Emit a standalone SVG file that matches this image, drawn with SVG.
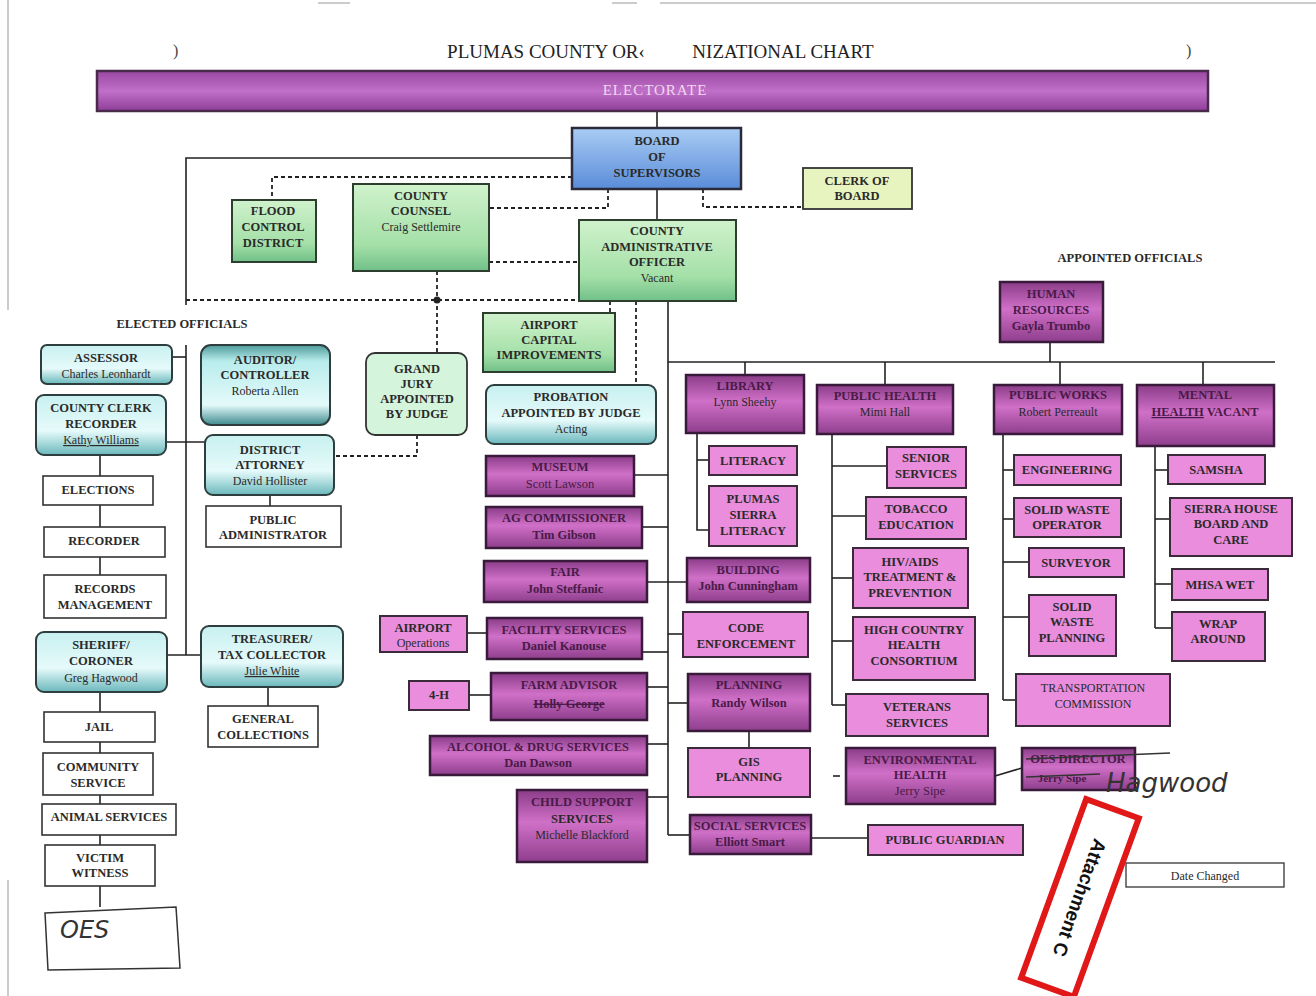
<svg xmlns="http://www.w3.org/2000/svg" width="1316" height="996" viewBox="0 0 1316 996">
<defs>
<linearGradient id="gel" x1="0" y1="0" x2="0" y2="1"><stop offset="0" stop-color="#9a48a2"/><stop offset="0.5" stop-color="#c070c8"/><stop offset="1" stop-color="#8e3e98"/></linearGradient>
<linearGradient id="gbl" x1="0" y1="0" x2="0" y2="1"><stop offset="0" stop-color="#a8ccf4"/><stop offset="1" stop-color="#5a8cd8"/></linearGradient>
<linearGradient id="ggr" x1="0" y1="0" x2="0" y2="1"><stop offset="0" stop-color="#d0f2cc"/><stop offset="0.7" stop-color="#a4e0a8"/><stop offset="1" stop-color="#70c088"/></linearGradient>
<linearGradient id="gcy" x1="0" y1="0" x2="0" y2="1"><stop offset="0" stop-color="#c8f0f0"/><stop offset="0.6" stop-color="#e6fafa"/><stop offset="1" stop-color="#6ab8bc"/></linearGradient>
<linearGradient id="gcy2" x1="0" y1="0" x2="0" y2="1"><stop offset="0" stop-color="#4e9a9a"/><stop offset="0.2" stop-color="#b8ecec"/><stop offset="0.75" stop-color="#e4fafa"/><stop offset="1" stop-color="#3e8a8e"/></linearGradient>
<linearGradient id="gdp" x1="0" y1="0" x2="0" y2="1"><stop offset="0" stop-color="#8a3c88"/><stop offset="0.45" stop-color="#d070c8"/><stop offset="1" stop-color="#8e3e8c"/></linearGradient>
<style>
.t{font-family:"Liberation Serif",serif;font-weight:bold;font-size:12.5px;fill:#2a2a2a;text-anchor:middle}
.n{font-family:"Liberation Serif",serif;font-size:12px;fill:#2a2a2a;text-anchor:middle}
.d{font-family:"Liberation Serif",serif;font-weight:bold;font-size:12.5px;fill:#4a1a48;text-anchor:middle}
.h{font-family:"DejaVu Sans",sans-serif;font-style:italic;font-size:20px;fill:#333}
.pk{fill:#e98ddc;stroke:#3a2a3a;stroke-width:2}
.dp{fill:url(#gdp);stroke:#3a1a3a;stroke-width:2.5}
.gr{fill:url(#ggr);stroke:#2e3e2e;stroke-width:2}
.cy{fill:url(#gcy);stroke:#2e3e3e;stroke-width:2}
.cy2{fill:url(#gcy2);stroke:#2e3e3e;stroke-width:2}
.wh{fill:#fff;stroke:#333;stroke-width:1.6}
.ln{stroke:#222;stroke-width:1.6;fill:none}
.dl{stroke:#222;stroke-width:1.8;fill:none;stroke-dasharray:4 3}
</style>
</defs>
<rect width="1316" height="996" fill="#fff"/>
<g id="page-marks" stroke="#999" stroke-width="1">
<line x1="8" y1="0" x2="8" y2="310"/><line x1="8" y1="880" x2="8" y2="996"/>
<line x1="318" y1="3" x2="350" y2="3"/><line x1="612" y1="3" x2="637" y2="3"/><line x1="660" y1="3" x2="1316" y2="3"/>
</g>
<g id="title">
<text x="546" y="58" style="font-family:'Liberation Serif',serif;font-size:19px;fill:#222;text-anchor:middle">PLUMAS COUNTY OR‹</text>
<text x="783" y="58" style="font-family:'Liberation Serif',serif;font-size:19px;fill:#222;text-anchor:middle">NIZATIONAL CHART</text>
<text x="173" y="56" style="font-family:'Liberation Serif',serif;font-size:16px;fill:#444">)</text>
<text x="1186" y="56" style="font-family:'Liberation Serif',serif;font-size:16px;fill:#444">)</text>
</g>

<g id="connectors">
<line class="ln" x1="657" y1="111" x2="657" y2="128"/>
<polyline class="ln" points="572,158 186,158 186,305"/>
<line class="dl" x1="186" y1="300" x2="579" y2="300"/>
<polyline class="dl" points="572,177 272,177 272,200"/>
<polyline class="dl" points="608,189 608,208 489,208"/>
<polyline class="dl" points="703,189 703,207 803,207"/>
<line class="ln" x1="657" y1="189" x2="657" y2="220"/>
<line class="dl" x1="489" y1="262" x2="579" y2="262"/>
<line class="dl" x1="437" y1="271" x2="437" y2="353"/>
<circle cx="437" cy="300" r="3.5" fill="#222"/>
<polyline class="dl" points="417,435 417,456 334,456"/>
<line class="dl" x1="610" y1="301" x2="610" y2="313"/>
<line class="dl" x1="636" y1="301" x2="636" y2="385"/>
<line class="ln" x1="668" y1="301" x2="668" y2="835"/>
<line class="ln" x1="668" y1="835" x2="690" y2="835"/>
<line class="ln" x1="668" y1="362" x2="1275" y2="362"/>
<line class="ln" x1="745" y1="362" x2="745" y2="375"/>
<line class="ln" x1="885" y1="362" x2="885" y2="385"/>
<line class="ln" x1="1060" y1="362" x2="1060" y2="385"/>
<line class="ln" x1="1203" y1="362" x2="1203" y2="385"/>
<line class="ln" x1="1050" y1="342" x2="1050" y2="362"/>
<line class="ln" x1="634" y1="475" x2="668" y2="475"/>
<line class="ln" x1="642" y1="527" x2="668" y2="527"/>
<line class="ln" x1="647" y1="582" x2="687" y2="582"/>
<line class="ln" x1="642" y1="652" x2="668" y2="652"/>
<line class="ln" x1="467" y1="633" x2="487" y2="633"/>
<line class="ln" x1="647" y1="687" x2="668" y2="687"/>
<line class="ln" x1="469" y1="695" x2="491" y2="695"/>
<line class="ln" x1="647" y1="744" x2="668" y2="744"/>
<line class="ln" x1="647" y1="797" x2="668" y2="797"/>
<line class="ln" x1="668" y1="634" x2="683" y2="634"/>
<line class="ln" x1="668" y1="703" x2="688" y2="703"/>
<line class="ln" x1="749" y1="731" x2="749" y2="748"/>
<line class="ln" x1="811" y1="838" x2="868" y2="838"/>
<polyline class="ln" points="697,433 697,530 709,530"/>
<line class="ln" x1="697" y1="460" x2="709" y2="460"/>
<line class="ln" x1="832" y1="434" x2="832" y2="705"/>
<line class="ln" x1="832" y1="466" x2="887" y2="466"/>
<line class="ln" x1="832" y1="516" x2="866" y2="516"/>
<line class="ln" x1="832" y1="578" x2="853" y2="578"/>
<line class="ln" x1="832" y1="641" x2="853" y2="641"/>
<line class="ln" x1="832" y1="705" x2="846" y2="705"/>
<line class="ln" x1="833" y1="776" x2="840" y2="776"/>
<line class="ln" x1="995" y1="776" x2="1022" y2="768"/>
<line class="ln" x1="1003" y1="434" x2="1003" y2="700"/>
<line class="ln" x1="1003" y1="470" x2="1014" y2="470"/>
<line class="ln" x1="1003" y1="519" x2="1014" y2="519"/>
<line class="ln" x1="1003" y1="562" x2="1029" y2="562"/>
<line class="ln" x1="1003" y1="617" x2="1029" y2="617"/>
<line class="ln" x1="1003" y1="700" x2="1016" y2="700"/>
<line class="ln" x1="1155" y1="446" x2="1155" y2="628"/>
<line class="ln" x1="1155" y1="470" x2="1168" y2="470"/>
<line class="ln" x1="1155" y1="519" x2="1170" y2="519"/>
<line class="ln" x1="1155" y1="584" x2="1172" y2="584"/>
<line class="ln" x1="1155" y1="628" x2="1172" y2="628"/>
<line class="ln" x1="186" y1="345" x2="186" y2="655"/>
<line class="ln" x1="172" y1="357" x2="186" y2="357"/>
<line class="ln" x1="166" y1="442" x2="205" y2="442"/>
<line class="ln" x1="167" y1="655" x2="201" y2="655"/>
<line class="ln" x1="100" y1="455" x2="100" y2="575"/>
<line class="ln" x1="270" y1="495" x2="270" y2="506"/>
<line class="ln" x1="268" y1="687" x2="268" y2="706"/>
<line class="ln" x1="100" y1="692" x2="100" y2="907"/>
</g>

<g id="electorate"><rect x="97" y="71" width="1111" height="40" fill="url(#gel)" stroke="#4a2a4a" stroke-width="2.5"/><text x="655" y="95" style="font-family:'Liberation Serif',serif;font-size:15px;fill:#f0d8f0;text-anchor:middle;letter-spacing:1px">ELECTORATE</text></g>
<g id="board"><rect x="572" y="128" width="169" height="61" fill="url(#gbl)" stroke="#2a2a3a" stroke-width="2.5"/><text class="t" x="657" y="145">BOARD</text><text class="t" x="657" y="161">OF</text><text class="t" x="657" y="177">SUPERVISORS</text></g>
<g id="clerk-board"><rect x="803" y="168" width="109" height="41" fill="#e8f4c0" stroke="#333" stroke-width="1.8"/><text class="t" x="857" y="185">CLERK OF</text><text class="t" x="857" y="200">BOARD</text></g>
<g id="flood"><rect x="232" y="200" width="84" height="62" class="gr"/><text class="t" x="273" y="215">FLOOD</text><text class="t" x="273" y="231">CONTROL</text><text class="t" x="273" y="247">DISTRICT</text></g>
<g id="counsel"><rect x="353" y="184" width="136" height="87" class="gr"/><text class="t" x="421" y="200">COUNTY</text><text class="t" x="421" y="215">COUNSEL</text><text class="n" x="421" y="231">Craig Settlemire</text></g>
<g id="cao"><rect x="579" y="220" width="157" height="81" class="gr" stroke-width="2.5"/><text class="t" x="657" y="235">COUNTY</text><text class="t" x="657" y="251">ADMINISTRATIVE</text><text class="t" x="657" y="266">OFFICER</text><text class="n" x="657" y="282">Vacant</text></g>
<g id="airport-cap"><rect x="483" y="313" width="132" height="59" class="gr"/><text class="t" x="549" y="329">AIRPORT</text><text class="t" x="549" y="344">CAPITAL</text><text class="t" x="549" y="359">IMPROVEMENTS</text></g>
<g id="probation"><rect x="486" y="385" width="170" height="59" rx="8" class="cy"/><text class="t" x="571" y="401">PROBATION</text><text class="t" x="571" y="417">APPOINTED BY JUDGE</text><text class="n" x="571" y="433">Acting</text></g>
<g id="grand-jury"><rect x="366" y="353" width="101" height="82" rx="9" fill="#d4f4dc" stroke="#333" stroke-width="1.8"/><text class="t" x="417" y="373">GRAND</text><text class="t" x="417" y="388">JURY</text><text class="t" x="417" y="403">APPOINTED</text><text class="t" x="417" y="418">BY JUDGE</text></g>
<g id="labels"><text class="t" x="182" y="328">ELECTED OFFICIALS</text><text class="t" x="1130" y="262">APPOINTED OFFICIALS</text></g>

<g id="assessor"><rect x="41" y="345" width="131" height="39" rx="6" class="cy"/><text class="t" x="106" y="362">ASSESSOR</text><text class="n" x="106" y="378">Charles Leonhardt</text></g>
<g id="auditor"><rect x="201" y="345" width="129" height="80" rx="10" class="cy2"/><text class="t" x="265" y="364">AUDITOR/</text><text class="t" x="265" y="379">CONTROLLER</text><text class="n" x="265" y="395">Roberta Allen</text></g>
<g id="county-clerk"><rect x="36" y="395" width="130" height="60" rx="8" class="cy"/><text class="t" x="101" y="412">COUNTY CLERK</text><text class="t" x="101" y="428">RECORDER</text><text class="n" x="101" y="444" text-decoration="underline">Kathy Williams</text></g>
<g id="da"><rect x="205" y="435" width="129" height="60" rx="8" class="cy"/><text class="t" x="270" y="454">DISTRICT</text><text class="t" x="270" y="469">ATTORNEY</text><text class="n" x="270" y="485">David Hollister</text></g>
<g id="elections"><rect x="43" y="476" width="110" height="29" class="wh"/><text class="t" x="98" y="494">ELECTIONS</text></g>
<g id="recorder"><rect x="44" y="527" width="121" height="30" class="wh"/><text class="t" x="104" y="545">RECORDER</text></g>
<g id="records"><rect x="44" y="575" width="122" height="43" class="wh"/><text class="t" x="105" y="593">RECORDS</text><text class="t" x="105" y="609">MANAGEMENT</text></g>
<g id="public-admin"><rect x="206" y="506" width="135" height="41" class="wh"/><text class="t" x="273" y="524">PUBLIC</text><text class="t" x="273" y="539">ADMINISTRATOR</text></g>
<g id="sheriff"><rect x="36" y="632" width="131" height="60" rx="8" class="cy"/><text class="t" x="101" y="649">SHERIFF/</text><text class="t" x="101" y="665">CORONER</text><text class="n" x="101" y="682">Greg Hagwood</text></g>
<g id="treasurer"><rect x="201" y="626" width="142" height="61" rx="8" class="cy"/><text class="t" x="272" y="643">TREASURER/</text><text class="t" x="272" y="659">TAX COLLECTOR</text><text class="n" x="272" y="675" text-decoration="underline">Julie White</text></g>
<g id="gen-coll"><rect x="208" y="706" width="110" height="41" class="wh"/><text class="t" x="263" y="723">GENERAL</text><text class="t" x="263" y="739">COLLECTIONS</text></g>
<g id="jail"><rect x="44" y="712" width="111" height="30" class="wh"/><text class="t" x="99" y="731">JAIL</text></g>
<g id="community"><rect x="43" y="753" width="110" height="42" class="wh"/><text class="t" x="98" y="771">COMMUNITY</text><text class="t" x="98" y="787">SERVICE</text></g>
<g id="animal"><rect x="42" y="804" width="134" height="31" class="wh"/><text class="t" x="109" y="821">ANIMAL SERVICES</text></g>
<g id="victim"><rect x="45" y="845" width="110" height="41" class="wh"/><text class="t" x="100" y="862">VICTIM</text><text class="t" x="100" y="877">WITNESS</text></g>
<g id="oes"><path d="M45,913 L176,907 L180,968 L48,970 Z" fill="none" stroke="#333" stroke-width="1.5"/><text class="h" x="60" y="938" style="font-size:24px">OES</text></g>

<g id="museum"><rect x="486" y="456" width="148" height="40" class="dp"/><text class="d" x="560" y="471">MUSEUM</text><text class="d" x="560" y="488" style="font-weight:normal">Scott Lawson</text></g>
<g id="ag"><rect x="486" y="507" width="156" height="41" class="dp"/><text class="d" x="564" y="522">AG COMMISSIONER</text><text class="d" x="564" y="539">Tim Gibson</text></g>
<g id="fair"><rect x="484" y="561" width="163" height="41" class="dp"/><text class="d" x="565" y="576">FAIR</text><text class="d" x="565" y="593">John Steffanic</text></g>
<g id="facility"><rect x="487" y="618" width="155" height="41" class="dp"/><text class="d" x="564" y="634">FACILITY SERVICES</text><text class="d" x="564" y="650">Daniel Kanouse</text></g>
<g id="airport-ops"><rect x="380" y="616" width="87" height="36" class="pk"/><text class="t" x="423" y="632">AIRPORT</text><text class="n" x="423" y="647">Operations</text></g>
<g id="farm"><rect x="491" y="673" width="156" height="47" class="dp"/><text class="d" x="569" y="689">FARM ADVISOR</text><text class="d" x="569" y="708" text-decoration="line-through">Holly George</text></g>
<g id="four-h"><rect x="409" y="681" width="60" height="29" class="pk"/><text class="t" x="439" y="699">4-H</text></g>
<g id="alcohol"><rect x="430" y="736" width="217" height="39" class="dp"/><text class="d" x="538" y="751">ALCOHOL &amp; DRUG SERVICES</text><text class="d" x="538" y="767">Dan Dawson</text></g>
<g id="child-support"><rect x="517" y="790" width="130" height="72" class="dp"/><text class="d" x="582" y="806">CHILD SUPPORT</text><text class="t" x="582" y="823">SERVICES</text><text class="n" x="582" y="839">Michelle Blackford</text></g>

<g id="library"><rect x="686" y="375" width="118" height="58" class="dp"/><text class="d" x="745" y="390">LIBRARY</text><text class="n" x="745" y="406">Lynn Sheehy</text></g>
<g id="literacy"><rect x="709" y="446" width="88" height="29" class="pk"/><text class="t" x="753" y="465">LITERACY</text></g>
<g id="ps-literacy"><rect x="709" y="486" width="88" height="60" class="pk"/><text class="t" x="753" y="503">PLUMAS</text><text class="t" x="753" y="519">SIERRA</text><text class="t" x="753" y="535">LITERACY</text></g>
<g id="building"><rect x="687" y="558" width="123" height="44" class="dp"/><text class="d" x="748" y="574">BUILDING</text><text class="d" x="748" y="590">John Cunningham</text></g>
<g id="code"><rect x="683" y="612" width="125" height="45" class="pk"/><text class="t" x="746" y="632">CODE</text><text class="t" x="746" y="648">ENFORCEMENT</text></g>
<g id="planning"><rect x="688" y="674" width="122" height="57" class="dp"/><text class="d" x="749" y="689">PLANNING</text><text class="d" x="749" y="707">Randy Wilson</text></g>
<g id="gis"><rect x="688" y="748" width="122" height="49" class="pk"/><text class="t" x="749" y="766">GIS</text><text class="t" x="749" y="781">PLANNING</text></g>
<g id="social"><rect x="690" y="815" width="121" height="39" class="dp"/><text class="d" x="750" y="830">SOCIAL SERVICES</text><text class="d" x="750" y="846">Elliott Smart</text></g>
<g id="pub-guardian"><rect x="868" y="825" width="155" height="30" class="pk"/><text class="t" x="945" y="844">PUBLIC GUARDIAN</text></g>

<g id="pub-health"><rect x="817" y="385" width="136" height="49" class="dp"/><text class="d" x="885" y="400">PUBLIC HEALTH</text><text class="n" x="885" y="416">Mimi Hall</text></g>
<g id="senior"><rect x="887" y="447" width="79" height="41" class="pk"/><text class="t" x="926" y="462">SENIOR</text><text class="t" x="926" y="478">SERVICES</text></g>
<g id="tobacco"><rect x="866" y="497" width="100" height="42" class="pk"/><text class="t" x="916" y="513">TOBACCO</text><text class="t" x="916" y="529">EDUCATION</text></g>
<g id="hiv"><rect x="853" y="548" width="115" height="60" class="pk"/><text class="t" x="910" y="566">HIV/AIDS</text><text class="t" x="910" y="581">TREATMENT &amp;</text><text class="t" x="910" y="597">PREVENTION</text></g>
<g id="high-country"><rect x="853" y="617" width="122" height="63" class="pk"/><text class="t" x="914" y="634">HIGH COUNTRY</text><text class="t" x="914" y="649">HEALTH</text><text class="t" x="914" y="665">CONSORTIUM</text></g>
<g id="veterans"><rect x="846" y="694" width="142" height="42" class="pk"/><text class="t" x="917" y="711">VETERANS</text><text class="t" x="917" y="727">SERVICES</text></g>
<g id="env-health"><rect x="846" y="748" width="149" height="56" class="dp"/><text class="d" x="920" y="764">ENVIRONMENTAL</text><text class="d" x="920" y="779">HEALTH</text><text class="d" x="920" y="795" style="font-weight:normal">Jerry Sipe</text></g>
<g id="oes-director"><rect x="1022" y="748" width="113" height="42" class="dp"/><text class="d" x="1078" y="763">OES DIRECTOR</text><text class="d" x="1062" y="782" style="font-size:11px">Jerry Sipe</text><path d="M1026,759 L1170,753 M1026,777 L1100,774" stroke="#333" stroke-width="1.5" fill="none"/><text class="h" x="1106" y="792" style="font-size:26px">Hagwood</text></g>

<g id="pub-works"><rect x="994" y="385" width="128" height="49" class="dp"/><text class="d" x="1058" y="399">PUBLIC WORKS</text><text class="n" x="1058" y="416">Robert Perreault</text></g>
<g id="engineering"><rect x="1014" y="455" width="107" height="30" class="pk"/><text class="t" x="1067" y="474">ENGINEERING</text></g>
<g id="sw-op"><rect x="1014" y="498" width="107" height="39" class="pk"/><text class="t" x="1067" y="514">SOLID WASTE</text><text class="t" x="1067" y="529">OPERATOR</text></g>
<g id="surveyor"><rect x="1029" y="548" width="95" height="29" class="pk"/><text class="t" x="1076" y="567">SURVEYOR</text></g>
<g id="sw-plan"><rect x="1029" y="595" width="87" height="61" class="pk"/><text class="t" x="1072" y="611">SOLID</text><text class="t" x="1072" y="626">WASTE</text><text class="t" x="1072" y="642">PLANNING</text></g>
<g id="transport"><rect x="1016" y="674" width="154" height="52" class="pk"/><text class="n" x="1093" y="692">TRANSPORTATION</text><text class="n" x="1093" y="708">COMMISSION</text></g>

<g id="mental-health"><rect x="1137" y="385" width="137" height="61" class="dp"/><text class="d" x="1205" y="399">MENTAL</text><text class="d" x="1205" y="416"><tspan text-decoration="underline">HEALTH</tspan> VACANT</text></g>
<g id="samsha"><rect x="1168" y="455" width="97" height="29" class="pk"/><text class="t" x="1216" y="474">SAMSHA</text></g>
<g id="sierra-house"><rect x="1170" y="498" width="122" height="58" class="pk"/><text class="t" x="1231" y="513">SIERRA HOUSE</text><text class="t" x="1231" y="528">BOARD AND</text><text class="t" x="1231" y="544">CARE</text></g>
<g id="mhsa"><rect x="1172" y="569" width="96" height="31" class="pk"/><text class="t" x="1220" y="589">MHSA WET</text></g>
<g id="wrap"><rect x="1172" y="612" width="93" height="49" class="pk"/><text class="t" x="1218" y="628">WRAP</text><text class="t" x="1218" y="643">AROUND</text></g>

<g id="human-res"><rect x="1000" y="282" width="103" height="60" class="dp"/><text class="d" x="1051" y="298">HUMAN</text><text class="d" x="1051" y="314">RESOURCES</text><text class="d" x="1051" y="330">Gayla Trumbo</text></g>

<g id="date-changed"><rect x="1126" y="863" width="158" height="24" fill="#fff" stroke="#333" stroke-width="1.3"/><text class="n" x="1205" y="880">Date Changed</text></g>
<g id="stamp" transform="translate(1080,898) rotate(110)"><rect x="-95" y="-28" width="190" height="56" fill="none" stroke="#e01818" stroke-width="6"/><text x="0" y="7" style="font-family:'Liberation Sans',sans-serif;font-weight:bold;font-size:19px;fill:#111;text-anchor:middle">Attachment C</text></g>
</svg>
